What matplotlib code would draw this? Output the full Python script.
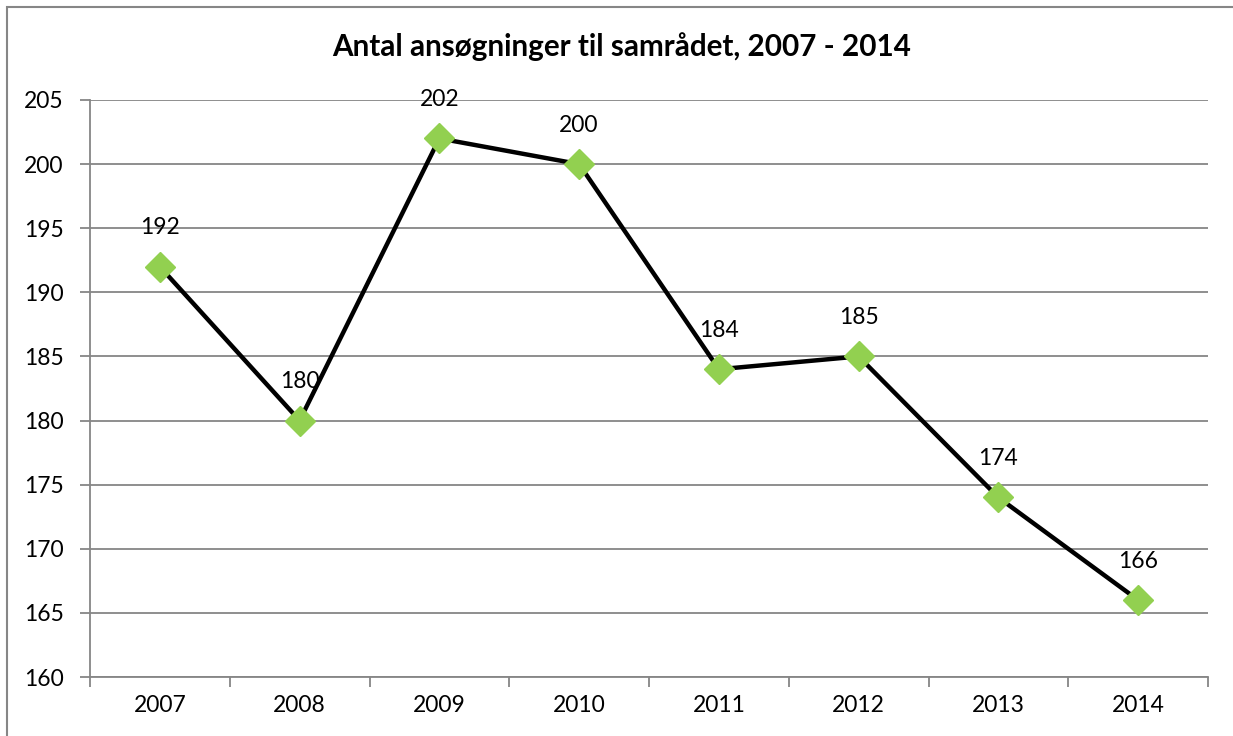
import matplotlib
matplotlib.use("Agg")
import matplotlib.pyplot as plt
from matplotlib.patches import Rectangle

years = ["2007", "2008", "2009", "2010", "2011", "2012", "2013", "2014"]
applications = [192, 180, 202, 200, 184, 185, 174, 166]

plt.rcParams["font.family"] = ["Lato", "DejaVu Sans"]

W, H = 1233, 736
fig = plt.figure(figsize=(W / 100, H / 100), dpi=100)
ax = fig.add_axes([90 / W, 1 - 677 / H, (1208 - 90) / W, (677 - 100) / H])

grid_c = "#868686"
x = list(range(len(years)))
ax.plot(x, applications, color="black", lw=3.2, zorder=3,
        marker="D", markersize=15.5, markerfacecolor="#92d050",
        markeredgecolor="#92d050")
for xi, v in zip(x, applications):
    ax.annotate(str(v), (xi, v), xytext=(0, 28), textcoords="offset points",
                ha="center", va="center", fontsize=16.5, zorder=4)

ax.set_xlim(-0.5, len(years) - 0.5)
ax.set_ylim(160, 205)
ax.set_yticks(range(160, 206, 5))
ax.set_xticks(x)
ax.set_xticklabels(years)
ax.set_xticks([i - 0.5 for i in range(len(years) + 1)], minor=True)
ax.tick_params(axis="x", which="major", length=0, pad=13, labelsize=16.5)
ax.tick_params(axis="x", which="minor", length=7, width=1.3, color=grid_c)
ax.tick_params(axis="y", length=7, width=1.3, color=grid_c, pad=12, labelsize=16.5)
ax.yaxis.grid(True, color=grid_c, lw=1.3)
ax.set_axisbelow(True)
for s in ["top", "right"]:
    ax.spines[s].set_visible(False)
for s in ["left", "bottom"]:
    ax.spines[s].set_color(grid_c)
    ax.spines[s].set_linewidth(1.3)

ax.set_title("Antal ansøgninger til samrådet, 2007 - 2014", fontsize=21.3,
             fontweight="bold", pad=0, x=(622 - 90) / (1208 - 90), y=(677 - 47) / (677 - 100),
             va="center")

fig.patches.append(Rectangle((7 / W, -0.1), 1.2, 1 - 7 / H + 0.1,
                             transform=fig.transFigure, fill=False,
                             edgecolor=grid_c, lw=1.5))

fig.savefig("out.png", dpi=100)
